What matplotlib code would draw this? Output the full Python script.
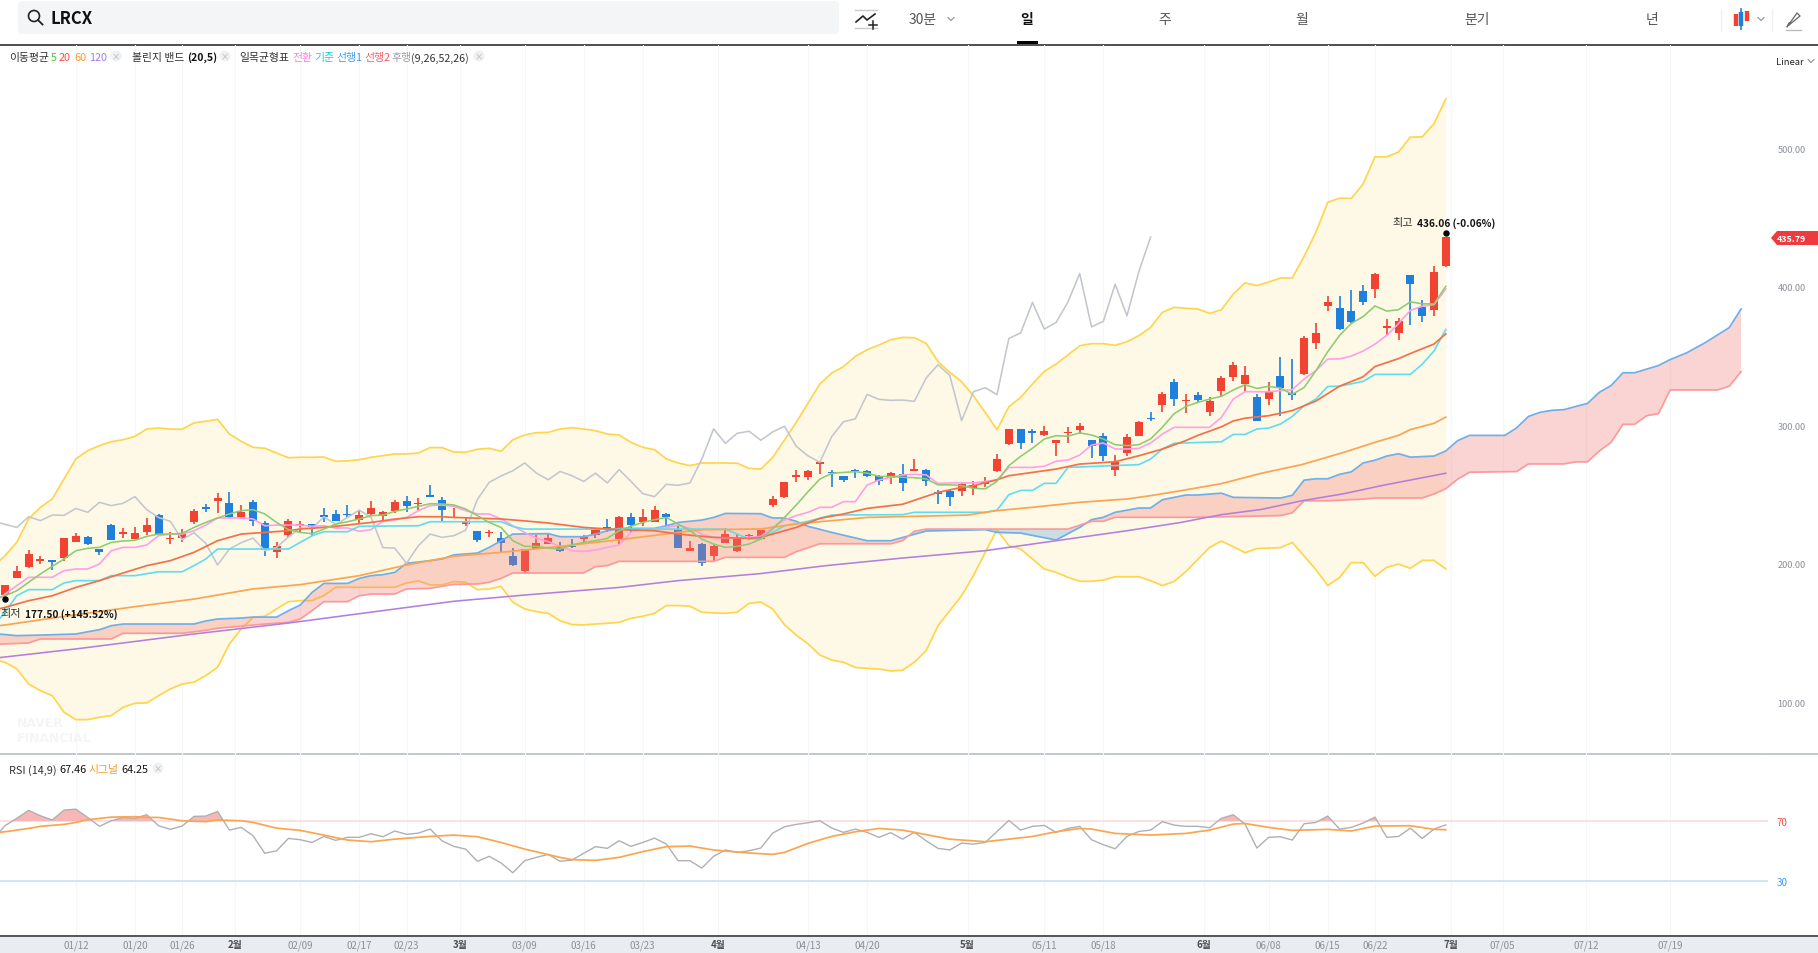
import numpy as np
import matplotlib
matplotlib.use("Agg")
import matplotlib.pyplot as plt
from matplotlib.patches import FancyBboxPatch, Rectangle, Circle, Polygon

plt.rcParams['font.family'] = ['Noto Sans CJK KR', 'DejaVu Sans']

# ---------- candles ----------
opens = [177.8,190,198,202.3,202.8,204.5,216,219.1,210.7,228.3,221.8,217.9,223.2,235.2,217.9,218.9,230.2,241.2,245.6,243.9,
         233.5,244.4,229.2,208.3,220.8,228,228.7,234.5,236,235.7,231.9,235.7,234.5,237.9,245.1,243.2,248.7,245.8,233,228.7,
         223.7,222,218.6,205.7,195.1,211,214.3,212.6,212.1,217.9,221,226.3,217.9,234,230.2,230.4,236,224.7,209.5,214.6,
         205.9,215.3,209,219.8,217.9,242.7,248.2,262.9,262.4,272.3,266.5,263.4,267.5,267.2,263.6,261.8,264.6,267.3,268,251.2,
         252.9,252.9,254.8,257.9,266.8,286.8,297.4,295.7,292.8,287.5,294.5,296.6,289.4,292.5,268,279.8,292.5,305.5,314.8,331.4,
         317.3,321.6,309.8,324.7,335,329.8,320.4,318.7,335.3,323.3,336.7,359.6,386.3,384.6,382.2,396.8,398.6,370.5,366.5,408.3,
         385.4,382.9,414.7]
highs = [185,198.7,210.2,205.9,203,219,222.2,220.3,211,229,225.6,226.3,232.8,236,222.7,225.1,239.6,243.2,251.1,251.6,
         242.5,246.3,231.2,216,232.4,230.9,229,240,238.6,242.5,238.1,245.3,237.9,245.8,248.9,247.3,256.9,248,240,233.3,
         224,224.7,222.7,211.2,211,220.8,221.8,215.5,217.9,220.8,226.2,232.4,234.8,236.7,239.6,241.5,236.5,227.1,216.7,215,
         213.5,225.6,221.5,221.5,224.5,248.7,259,268,267.5,273,268,263.5,268.4,267.5,264,266,272.3,275.7,268.5,253.6,
         253.6,258,260.1,262.5,279.3,297.6,297.6,297.4,299.8,289.5,299,301.7,289.5,294.2,278.8,293.5,303.1,309.9,323.7,333.4,
         322.3,324.2,320.4,335.3,345.9,342.5,322.8,331,349,347.8,364.6,373.8,393,393.5,397.8,401.3,410,377,377.2,408.5,
         390.1,415,436.06]
lows = [177.5,190,197.2,199.9,195.6,202.3,216,213.6,206.4,217,218.9,217.9,220.8,220.5,214.1,216,229,237.2,236.7,232.8,
        232.4,227.1,205.4,204.5,218.9,222.7,220.3,230,231,232.8,228.7,234.3,231.9,236.9,237.6,238.6,248.5,230.9,233,227.1,
        216,219.1,208.8,198.7,193.4,211,214,208.3,211.7,216,218.4,223.2,214.6,222.2,227.1,230,227.1,211.5,209.5,198.7,
        202.3,215,208.8,217.4,217.4,241.2,247.3,259.3,260.7,264.8,255.4,258.8,261.9,262.7,257.1,257.7,252.9,267,256.5,243.2,
        241.6,248.8,249.7,255.3,266.5,285.8,282.9,287.3,292.5,277.6,287.3,294,276.4,274.3,263.4,277.6,292,303.1,309.8,314.1,
        309.1,316.5,306.9,320.9,332.2,324.7,303,314.8,306.4,318.5,336.2,355,382.4,369,373.5,387.1,391.9,365.5,361.5,372.5,
        374.5,378.9,414.2]
closes = [184.7,194.6,206.9,203,201.1,218.6,220.3,214.1,208.8,217.4,223.2,222.2,228,220.8,218.4,221.8,237.9,239.6,247.7,233.5,
          237.2,230.7,209.7,213.1,230.9,228.5,226.3,234,231.2,235.2,235,240,237.2,244.4,242,243.7,248.5,239.1,233.5,230.7,
          217.4,222.5,214.8,199.2,210.7,215.3,218.6,209.5,211.9,219.4,225.9,225.4,234,228.3,233.5,238.8,233.5,211.7,211.4,200.4,
          213.1,221.5,219.1,220.3,224.2,246.5,258.8,263.4,267.2,272.8,265.5,260.7,266.7,263.6,259.5,265.4,258.4,268,259.6,250.7,
          248.5,257.4,256.7,258.4,275.5,297.4,287,294.2,295.7,289.2,295.2,299.3,284.8,277.9,273.3,291.8,302.6,304.6,322.3,318.7,
          318,318.2,317.3,334.1,343.7,336,303.3,324.2,327.1,322.1,362.7,366.6,388.7,369.4,374.2,388.9,409.5,371,375,401.8,
          379,410.7,435.79]

# Line series start one session before the first visible candle (x = -1), running off the left edge.
# ---------- Bollinger (20,5) ----------
bb_upper = [198,205.9,215.6,232.4,240.8,246.8,261.3,275.7,281.7,285.3,288.2,289.6,292,297.3,298,297.3,297.1,301.7,302.9,304.3,293.7,
            288.4,284.1,283.4,280,276.6,276.9,276.9,277.1,274,274.3,275.2,276.9,278.1,279.3,279.3,280,283.9,283.9,280.7,280.5,
            282.7,283.4,281.2,289.6,293,294.7,294.9,297.3,298.3,297.3,296.1,293.7,293,287.7,284.1,282.4,275.7,272.8,270.9,272.8,
            272.8,272.8,272.6,268.9,268.4,276.8,289.3,302.1,316,329.8,337.7,342.3,349.7,354.5,357.9,361.7,363.4,363.2,359.1,345.9,
            338.2,331.4,321.3,309.3,296.8,313.4,320.1,329.8,338.9,344.2,350.7,357.4,358.9,358.9,357.7,360.3,364.6,370.6,381.5,385.1,
            384.4,383.9,380.7,383.4,394.6,402.8,400.8,403.3,406.3,406.3,421.9,439.3,460.9,463.9,463.7,474.1,493.7,493.7,497.2,507.9,
            508.1,517.6,535.5]
bb_lower = [131,129,124.2,113.3,108.5,104.9,92.9,87.6,87.6,89.3,90.5,96.5,99.4,99.6,104.9,109.7,113.3,114.6,119.4,125.4,142.2,
            153,161.4,162.2,167.5,172.7,173.5,173.5,177.1,183.1,183.1,183.1,183.1,183.1,183.1,186.2,187.7,184.8,184.8,187.2,186.7,
            181.4,181.9,183.8,172.3,167.5,165.5,164.3,159,156.2,155.9,156.6,157.1,157.8,160.7,162.2,164.3,169.9,169.9,169.4,165.1,
            164.6,164.3,165.1,171.5,172.5,167.4,156.1,148.6,142.2,134.2,130.6,129,125.3,124.6,124.1,122.7,123.2,129,137.4,155.4,
            166.2,177,191.5,208.3,224.7,213.1,210.7,203.5,196.3,193.9,190.3,187.4,187.4,188.3,190.7,190.7,190.7,187.9,184.3,187.4,
            194.5,203.2,211.9,216.4,212.4,208,211,211.4,211.7,215.4,205.7,195.8,184.4,190.1,201,200.8,191,197.5,199.8,196.8,
            202.5,202.5,196.3]

# ---------- moving averages ----------
ma5 = [174,177,180.6,186.7,192.7,198.2,203.5,209.5,211.2,211.9,215.5,216.5,217,219.8,221.5,221.5,222,226.3,229.9,233.1,236,
       238.4,239.1,236,229.9,224.7,222.7,221.8,225.1,228.7,230.4,232.4,234.8,235.2,237.9,239.6,241.5,243.4,243.2,242.5,239.6,
       234.8,229.9,226.3,216.7,212.6,212.6,211.4,210.7,213.6,215.5,216.7,218.4,223.9,227.1,229.9,231.9,233.5,228.7,223.9,217.9,
       214.3,211.9,212.6,214.3,217.9,225.1,233.5,242.5,252.1,261.2,265.3,266,266.5,265.5,263.1,263.1,262.5,262.2,261.3,257,
       257,256.5,254.5,254.1,259.6,270.9,277.6,283.4,290.1,292.5,292.1,294.5,293,290.1,286,285.3,286,290.1,298.6,308.4,
       313.6,316.5,318.9,320.9,325.4,329.3,326.6,328.1,326.9,322.3,327.3,339.4,353.1,364.8,373.5,378.4,386.1,382.4,383.4,389.1,
       387.6,387.6,400.3]
ma20_i = [-1,0,2,4,6,8,10,12,14,16,18,20,22,24,25,27,29,31,33,35,37,38,42,44,46,49,52,55,57,60,63,64,67,69,71,73,76,79,81,82,84,85,89,91,94,96,98,100,101,103,104,105,107,109,111,113,115,116,118,119,121,122]
ma20_v = [166.5,168.6,173.4,177,183,187.9,193.4,198.7,202.3,208.3,216.7,221.5,222.7,223.9,225.1,226.3,228,229.9,232.3,234,234,233.5,232.4,231,229.5,226.3,224.7,223.9,221.5,219.1,218.4,219.1,226.3,232.8,236,240,243,251.6,255.2,256.4,260.7,263.6,268.4,272,273.7,278,282.8,289,292.7,298.9,303.1,305.1,306.9,310.6,317.5,328.2,335,342.4,348.1,351.8,358.6,366]
ma60_i = [-1,0,6,11,16,21,25,30,34,38,42,47,52,57,59,64,67,69,73,77,81.5,84,87,91,95,97,99.5,103,106.4,109.8,113.3,116,118,119,121,122]
ma60_v = [154.8,155.9,163.3,169.1,174.6,181.9,185,191.5,199.2,205.5,208.3,212.6,217.4,222.7,224.6,225.2,228.8,230.4,233.5,234.3,235.2,238.4,240.8,244.4,246.8,249.2,252.7,257.9,265.4,271.6,280.3,287.7,292.7,296.9,301.4,305.9]
ma120_i = [-1,0,6,16,24,38,44,52,57,64,69.5,76,83,89,95,99.5,103,106.4,109.8,113.3,116.7,122]
ma120_v = [131.8,132.8,138.6,149.4,157.3,173,177.5,183,187.9,193,198.7,204.2,209.5,216.7,223.9,229.8,235.5,239.3,245.5,250.5,256.7,265.4]

# ---------- Ichimoku (9,26,52,26) ----------
tenkan = [172,178.2,184.3,190.3,190.3,190.3,195.1,196.3,196.3,199.9,209.5,211.9,211.9,213.6,220.3,221.5,221.5,223.9,228,233.1,233.1,
          233.1,232.4,227.5,228,228,228,227.1,227.5,225.9,225.9,223.5,224.7,230.7,231.6,233.5,238.4,242,242.5,241.5,238.4,
          236,236,232.4,227.5,222.7,218.4,216,212.6,209.5,209,210,211.9,213.6,222.7,225.1,225.1,226.3,228,225.6,221.5,
          219.1,218.6,218.6,219.1,219.8,226.3,231.6,234.8,237.2,240.8,240.8,244.9,244.9,256.9,260.5,262.4,264.2,264.6,264.2,258,
          258.4,258.4,258.4,259.4,260.6,269.6,269.6,269.6,270.4,274,274.9,278.5,285.7,287.2,282.9,282.9,283.3,287.2,293.7,298.5,
          298.5,298.5,298.5,305.7,318.9,324.2,324.2,324.2,325,325.7,333.4,339.4,347.8,347.9,349.9,353.6,358.6,364.8,373.5,382.9,
          385.9,387.1,398.3]
kijun_i = [-1,0,1,2,4,5,6,8,9,11,13,15,16,17,18,24,25,26,27,29,30,35,36,42,43,44,61,62,63,64,66,68,70,76,77,83,84,85,86,87,88,89,90,96,97,98,99,103,104,105,106,107,108,109,110,111,112,113,115,116,119,120,121,122]
kijun_v = [155,165,177,181.4,181.4,186.2,187.9,187.9,191.5,191.5,194.3,194.3,198.7,203.5,210.7,210.7,215.5,220.3,223.2,223.2,227.1,227.5,230.4,230.4,227,225.1,225.1,221.5,217.9,217.9,227.5,230.7,235.2,235.5,237.2,237.2,238.8,249.9,253,253,258.1,258.1,269.6,271.6,275.6,282.9,287,288.1,293.4,293.4,297.3,298,300.9,306.4,314.1,318.9,328,328.2,331.7,336.7,336.7,344.1,353.6,369.2]
senkou1_i = [-1,0,1,3,6,7,8,9,10,16,17,18,20,21,23,24,25,26,27,29,30,31,32,33,34,36,37,38,40,41,42,43,46,47,49,50,51,52,55,56,57,59,60,61,64,65,66,67,68,70,73,75,76,78,83,84,86,89,91,92,93,94,96,97,98,100,101,103,104,108,109,110,111,112,113,114,115,116,117,118,119,121,122,123,124,127,128,129,130,131,132,134,135,136,137,138,140,141,142.4,144,146,147]
senkou1_v = [149.6,149,148.2,148.6,149.4,151,152.5,155.4,156.6,156.6,158.8,160.2,160.9,161.6,161.6,166.2,170.3,179.4,185.9,185.9,189.5,191.5,192.2,193.9,200.4,202.3,203.5,206.5,207.8,211.9,216.7,221.5,221.8,219.6,219.6,221.5,223.9,225.6,225.6,227.5,229.9,231.6,233.5,236.4,236.2,233.1,233.1,230.7,227.1,222.7,216.7,216.7,219,223.7,224.7,222.7,222.2,217.2,226.3,231.9,233.6,237.2,240.3,240.3,246.3,249.7,249.7,251,248,247.5,249.5,260.4,261.4,261.4,264.6,266.4,272.8,274.8,277.8,279.5,277,277.8,281.5,288.9,292.7,292.7,298.2,306.4,309.4,310.8,311.3,315.8,323.8,328.7,337.9,337.9,343.1,347.4,352.3,359.8,370.5,383.9]
senkou2_i = [-1,0,2,3,9,10,15,17,18,22,24,25,26,27,29,30,31,33,34,36,37,38,40,41,42,43,49,50,51,52,60,61,66,67,69,75,76,77,78,90,92,93,94,101,108,109,110,112,115,116,120,121,122,123,124,128,129,132,133,134,135,136,137,138,139,140,141,145,146,147]
senkou2_v = [142,142.2,142.9,145.8,145.8,149.9,149.9,152,153.5,156.6,157.8,160.2,166.2,172.7,172.7,177,178.2,178.2,181.9,182.3,183.8,185.2,185.5,186.7,189.5,193.4,193.4,198,198.7,201.8,201.8,204.7,204.7,208.8,214.5,214.5,216.7,223.5,225.1,225.1,230.7,230.7,233.6,233.6,234.8,236.8,245.5,245.5,246.7,247.5,247.5,250.4,254.2,261.1,266.1,266.6,272.1,272.1,273.6,273.6,281.5,287.7,300.7,300.7,306.9,308.4,325.5,325.5,328.2,338.7]
chikou_shift = 25

# ---------- RSI ----------
rsi = [58,66.9,71.8,77.1,73.5,70.7,77.3,77.9,72.4,66.5,70.2,72.4,71.8,74.2,66.9,64.5,66.7,73.1,73.3,76.4,64,
       65.8,60.3,48.6,50.3,58.5,57.6,55.8,59.8,57.2,59.2,59.2,61.6,59.6,63.4,61.2,62,64.7,56.9,53.2,51.4,
       43.3,46.6,42.2,35.7,43.7,45.9,47.9,43.3,44.1,48.6,53,51.9,56.9,53.2,55.8,58.7,54.7,43.7,43.7,38.8,
       46.6,50.8,49.2,50.3,52.1,62,66.2,67.8,68.9,70.2,65.4,62.5,64.7,62.5,59.2,62.3,58,62.5,56.9,51.9,
       50.8,55.4,54.7,55.8,63.1,70.4,64,66.5,67.1,62.5,65.1,66.5,57.6,54.3,51.6,59.8,63.1,64,69.6,67.3,
       66.5,66.5,65.6,71.8,74.2,68,52.1,59.2,59.6,57.4,68.2,69.1,73.3,64.7,65.8,68.7,72.6,59.2,59.8,65.3,
       58.5,64.7,67.46]
signal_i = [-1,0,2,3,5,6,7,9,11,12,13,15,17,18,20,21,23,25,27,29,31,33,36,38,40,42,44,47,48,50,52,54,56,58,60,63,65,66,68,70,72,74,76,80,83,85,87,89,91,92,94,97,100,102,104,105,107,109,112,114,116,119,121,122]
signal_v = [62,62.9,65.1,66.5,67.8,69.1,70.9,72.6,72.9,72.4,72.4,70.2,69.6,70.7,70.2,69.1,65.3,63.8,60.7,57.4,56.3,58,59.8,60.7,59.6,55.8,51.4,45.9,44.4,43.9,45.9,49.7,53,53.4,50.8,48.8,47.9,49.2,55.2,59.8,62.9,65.1,64,58,56.3,58,59.8,62.9,65.1,64.7,61.8,60.7,61.8,64,68,68.4,65.8,63.8,64.5,63.4,66.7,66.9,64.5,64.25]

# ---------- axes labels ----------
price_ticks = [100, 200, 300, 400, 500]
date_pos = [6,11,15,19.5,25,30,34,38.5,44,49,54,60.4,68,73,81.5,88,93,101.5,107,112,116,122.4,126.8,133.9,141]
date_labels = ['01/12','01/20','01/26','2월','02/09','02/17','02/23','3월','03/09','03/16','03/23','4월','04/13','04/20','5월','05/11','05/18','6월','06/08','06/15','06/22','7월','07/05','07/12','07/19']
grid_end = 149.28
tabs = ['일', '주', '월', '분기', '년']

# ---------- colours ----------
RED, BLUE = '#f24232', '#1f7fdc'
W, H = 1818, 954
fig = plt.figure(figsize=(W/100, H/100), dpi=100, facecolor='white')
def rect(x0, y0, x1, y1):
    return [x0/W, 1-y1/H, (x1-x0)/W, (y1-y0)/H]

bg = fig.add_axes([0, 0, 1, 1], zorder=0); bg.set_xlim(0, W); bg.set_ylim(H, 0); bg.axis('off')
bg.add_patch(Rectangle((0, 936), W, 18, fc='#e9ecf1', ec='none'))
bg.plot([0, W], [45.5, 45.5], color='#2f3136', lw=1.2)
bg.plot([0, W], [755, 755], color='#b9bdc6', lw=1.2)
bg.plot([0, W], [936.5, 936.5], color='#3a3c42', lw=1.2)
bg.add_patch(FancyBboxPatch((18, 2), 821, 33, boxstyle='round,pad=0,rounding_size=4', fc='#f4f5f7', ec='none'))
bg.add_patch(Rectangle((1017, 42), 21, 3, fc='black', ec='none'))

XLIM = (-0.423, 149.28)
ax = fig.add_axes(rect(0, 46, 1768, 755), zorder=1); ax.patch.set_alpha(0)
r = fig.add_axes(rect(0, 755, 1768, 936), zorder=1); r.patch.set_alpha(0)
for a in (ax, r):
    a.set_xlim(*XLIM)
    for s in a.spines.values():
        s.set_visible(False)
    for g in date_pos + [grid_end]:
        a.axvline(g, color='#f5f6f7', lw=0.8, zorder=0)
ax.set_ylim(62.8, 574.4)
r.set_ylim(-5.6, 114.5)

idx = np.arange(len(closes))
lx = np.arange(-1, len(closes))     # x for the series that carry the extra leading value
closes_a = np.array(closes)

# Bollinger
ax.fill_between(lx, bb_lower, bb_upper, color='#fef9e6', lw=0, zorder=1)
ax.plot(lx, bb_upper, color='#ffd54d', lw=1.25, zorder=2)
ax.plot(lx, bb_lower, color='#ffd54d', lw=1.25, zorder=2)

# candles
for i, (o, h, l, c) in enumerate(zip(opens, highs, lows, closes)):
    col = RED if c >= o else BLUE
    ax.plot([i, i], [l, h], color=col, lw=1.2, zorder=3, solid_capstyle='butt')
    top, bot = max(o, c), min(o, c)
    ax.bar(i, max(top-bot, 0.9), bottom=bot, width=0.68, color=col, lw=0, zorder=3)

# cloud
cx = np.arange(-1, 148)
s1 = np.interp(cx, senkou1_i, senkou1_v)
s2 = np.interp(cx, senkou2_i, senkou2_v)
ax.fill_between(cx, s1, s2, where=s1 >= s2, interpolate=True, color='#f07a78', alpha=0.32, lw=0, zorder=4)
ax.fill_between(cx, s1, s2, where=s1 <= s2, interpolate=True, color='#5fa3d6', alpha=0.32, lw=0, zorder=4)
ax.plot(senkou1_i, senkou1_v, color='#6fb0ea', lw=1.25, zorder=5)
ax.plot(senkou2_i, senkou2_v, color='#fb9a9a', lw=1.25, zorder=5)

# lines
ax.plot(lx, tenkan, color='#ff9fe6', lw=1.2, zorder=6)
ax.plot(kijun_i, kijun_v, color='#5fdcf0', lw=1.2, zorder=6)
ax.plot(idx[chikou_shift-1:] - chikou_shift, closes_a[chikou_shift-1:], color='#c3c6cf', lw=1.15, zorder=5)
ax.plot(ma120_i, ma120_v, color='#b47fdc', lw=1.15, zorder=6)
ax.plot(ma60_i, ma60_v, color='#f9a552', lw=1.25, zorder=6)
ax.plot(ma20_i, ma20_v, color='#f2714a', lw=1.25, zorder=6)
ax.plot(lx, ma5, color='#8ccc6e', lw=1.15, zorder=7)

ax.set_xticks([])
ax.yaxis.tick_right()
ax.set_yticks(price_ticks)
ax.set_yticklabels([f'{p:.2f}' for p in price_ticks], fontsize=6.6, color='#8b9099')
ax.tick_params(axis='y', length=0, pad=7)

# extreme markers
ax.plot(0, lows[0], 'o', ms=3.6, color='black', zorder=9, clip_on=False)
ax.lines[-1].set_transform(ax.transData + matplotlib.transforms.ScaledTranslation(0, -3/72, fig.dpi_scale_trans))
ax.plot(122, max(highs), 'o', ms=3.6, color='black', zorder=9)
ax.lines[-1].set_transform(ax.transData + matplotlib.transforms.ScaledTranslation(0, 3/72, fig.dpi_scale_trans))

# RSI
rsi_a = np.array(rsi)
r.axhline(70, color='#fde0e0', lw=1.4, zorder=1)
r.axhline(30, color='#cfe4fb', lw=1.4, zorder=1)
r.fill_between(lx, rsi_a, 70, where=rsi_a > 70, interpolate=True, color='#f9b6b6', lw=0, zorder=2)
r.plot(lx, rsi, color='#aeb0b5', lw=1.0, zorder=3)
r.plot(signal_i, signal_v, color='#fba54e', lw=1.25, zorder=4)
r.yaxis.tick_right()
r.set_yticks([70, 30])
r.set_yticklabels(['70', '30'], fontsize=7)
r.get_yticklabels()[0].set_color('#f0504a')
r.get_yticklabels()[1].set_color('#3f9bf0')
r.tick_params(axis='y', length=0, pad=6)
r.set_xticks(date_pos)
r.set_xticklabels(date_labels, fontsize=7.0, color='#8b9099')
r.tick_params(axis='x', length=0, pad=3)
for t in r.get_xticklabels():
    if '월' in t.get_text():
        t.set_color('#4a4c52'); t.set_fontweight('bold')

# text overlay
ov = fig.add_axes([0, 0, 1, 1], zorder=2); ov.set_xlim(0, W); ov.set_ylim(H, 0); ov.axis('off')
def T(x, y, s, size=8, color='#333333', weight='normal', ha='left', family=None):
    kw = {'family': family} if family else {}
    ov.text(x, y + 1.2, s, fontsize=size, color=color, fontweight=weight, ha=ha, va='center', **kw)
def close_dot(x, y):
    ov.add_patch(Circle((x, y), 5.5, fc='#f0f1f3', ec='none'))
    ov.text(x, y, '×', fontsize=6, color='#b0b3ba', ha='center', va='center')
def chevron(x, y, c='#8b8f96'):
    ov.plot([x-3, x, x+3], [y-1.5, y+1.5, y-1.5], color=c, lw=0.8)

T(50, 18, 'LRCX', 12, '#111111', 'bold')
ov.add_patch(Circle((34, 17), 5.5, fc='none', ec='#222222', lw=1.2))
ov.plot([38, 42.5], [21, 25.5], color='#222222', lw=1.3)
# line-chart icon
ov.plot([855, 877], [11, 11], color='#c8cace', lw=1)
ov.plot([855, 877], [29, 29], color='#c8cace', lw=1)
ov.plot([856, 863, 867, 875], [23, 17, 21, 15], color='#222222', lw=1.2)
ov.plot([873, 873], [22, 30], color='#222222', lw=1.1); ov.plot([869, 877], [26, 26], color='#222222', lw=1.1)

T(909, 19, '30분', 10, '#555555'); chevron(951, 20)
for x, s in zip([1027, 1165, 1302, 1477, 1652], tabs):
    T(x, 19, s, 10, '#111111' if s == '일' else '#555555', 'bold' if s == '일' else 'normal', ha='center')
# candle icon
ov.plot([1736, 1736], [15, 27], color=RED, lw=3.2, solid_capstyle='butt')
ov.plot([1741, 1741], [10, 30], color=BLUE, lw=1.2)
ov.plot([1741, 1741], [13, 27], color=BLUE, lw=3.2, solid_capstyle='butt')
ov.plot([1747, 1747], [12, 22], color=RED, lw=3.2, solid_capstyle='butt')
chevron(1761, 20)
ov.plot([1721, 1721], [10, 32], color='#f0f1f3', lw=1); ov.plot([1772, 1772], [10, 32], color='#f0f1f3', lw=1)
# pencil icon
ov.plot([1789, 1787, 1797, 1800, 1789], [24, 28, 14, 17, 26], color='#666666', lw=0.9)
ov.plot([1786, 1801], [31, 31], color='#b5b7bc', lw=0.9)

T(1776, 61, 'Linear', 6.8, '#222222'); chevron(1811, 62)

# legend line
T(9, 57, '이동평균', 7.8)
T(51, 57, '5', 7.8, '#4cc04a'); T(59, 57, '20', 7.8, '#f0504a'); T(74, 57, '60', 7.8, '#f59a2f'); T(89, 57, '120', 7.8, '#a47fe0')
close_dot(116, 57)
T(132, 57, '볼린지 밴드', 7.8); T(187, 57, '(20,5)', 7.6, '#111111', 'bold')
close_dot(225, 57)
T(239, 57, '일목균형표', 7.8)
T(292, 57, '전환', 7.8, '#ff7fe0'); T(314, 57, '기준', 7.8, '#1fc8e8'); T(336, 57, '선행1', 7.8, '#3f9bf0')
T(364, 57, '선행2', 7.8, '#f0606a'); T(392, 57, '후행', 7.8, '#9a9da5'); T(411, 57, '(9,26,52,26)', 7.7)
close_dot(479, 57)

# RSI legend
T(9, 769, 'RSI (14,9)', 7.8); T(59, 769, '67.46', 7.8, '#111111')
T(89, 769, '시그널', 7.8, '#f59a2f'); T(121, 769, '64.25', 7.8, '#111111')
close_dot(158, 769)

# watermark
T(17, 722, 'NAVER', 9, '#f4f5f6', 'bold', family='DejaVu Sans')
T(17, 737, 'FINANCIAL', 9, '#f4f5f6', 'bold', family='DejaVu Sans')

# extreme labels
T(0, 613, '최저', 8, '#333333'); T(25, 613, '177.50 (+145.52%)', 7.3, '#111111', 'bold')
T(1392, 222, '최고', 8, '#333333'); T(1417, 222, '436.06 (-0.06%)', 7.3, '#111111', 'bold')

# last price tag
ov.add_patch(Polygon([(1771, 239), (1777, 232), (1818, 232), (1818, 246), (1777, 246)], fc='#ee3b3f', ec='none'))
T(1777, 238, '435.79', 6.4, 'white', 'bold')

fig.savefig('out.png', dpi=100)
